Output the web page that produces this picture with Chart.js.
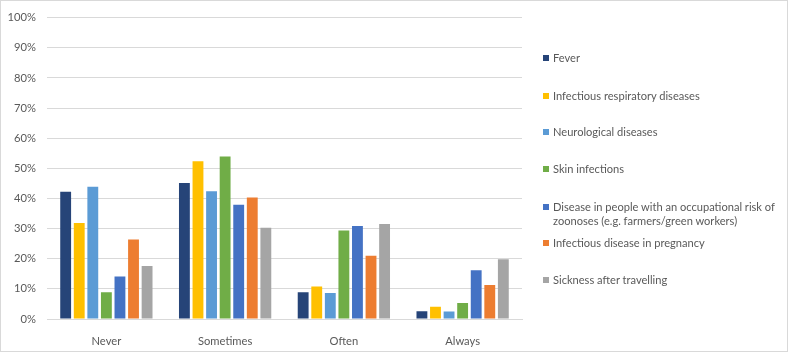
<!DOCTYPE html>
<html>
<head>
<meta charset="utf-8">
<script src="https://cdn.jsdelivr.net/npm/chart.js@4"></script>
<style>
  body { margin: 0; background: #fff; }
  #wrap { position: relative; width: 788px; height: 352px; font-family: Lato, "Open Sans", sans-serif; }
  #frame { position: absolute; left: 0; top: 0; width: 788px; height: 352px; box-sizing: border-box; border: 1px solid #d9d9d9; pointer-events: none; }
  canvas { position: absolute; left: 0; top: 0; }
  #legend { position: absolute; left: 543px; top: 0; color: #595959; font-size: 11.1px; line-height: 14px; }
  .item { position: absolute; left: 0; white-space: nowrap; }
  .box { position: absolute; left: 0; top: 4px; width: 6px; height: 6px; }
  .lbl { position: absolute; left: 10px; top: 0; }
</style>
</head>
<body>
<div id="wrap">
  <canvas id="c" width="788" height="352"></canvas>
  <div id="legend"></div>
  <div id="frame"></div>
</div>
<script>
let categories = ["Never", "Sometimes", "Often", "Always"];

let seriesNames = [
    "Fever",
    "Infectious respiratory diseases",
    "Neurological diseases",
    "Skin infections",
    ["Disease in people with an occupational risk of", "zoonoses (e.g. farmers/green workers)"],
    "Infectious disease in pregnancy",
    "Sickness after travelling"
];

let colori = ["#264478", "#FFC000", "#5B9BD5", "#70AD47", "#4472C4", "#ED7D31", "#A5A5A5"];

let fever = [42.2, 45.1, 8.9, 2.6];
let respiratory = [31.9, 52.4, 10.8, 4.1];
let neurological = [43.9, 42.4, 8.6, 2.5];
let skin = [8.9, 53.9, 29.4, 5.3];
let zoonoses = [14.1, 37.9, 30.9, 16.2];
let pregnancy = [26.4, 40.3, 21.0, 11.3];
let travelling = [17.6, 30.3, 31.5, 19.8];

let yTicks = [0, 10, 20, 30, 40, 50, 60, 70, 80, 90, 100];

let valori = [fever, respiratory, neurological, skin, zoonoses, pregnancy, travelling];

// legenda a destra, costruita a mano
let legendTops = [51, 89, 125, 162, 200, 236, 273];
const legend = document.getElementById("legend");
seriesNames.forEach((name, i) => {
    const item = document.createElement("div");
    item.className = "item";
    item.style.top = legendTops[i] + "px";
    const box = document.createElement("div");
    box.className = "box";
    box.style.background = colori[i];
    const lbl = document.createElement("div");
    lbl.className = "lbl";
    lbl.innerHTML = Array.isArray(name) ? name.join("<br>") : name;
    item.appendChild(box);
    item.appendChild(lbl);
    legend.appendChild(item);
});

const ctx = document.getElementById("c").getContext("2d");

const chart = new Chart(ctx, {
    type: "bar",
    data: {
        labels: categories,
        datasets: valori.map((v, i) => ({
            label: Array.isArray(seriesNames[i]) ? seriesNames[i].join(" ") : seriesNames[i],
            data: v,
            backgroundColor: colori[i],
            barPercentage: 0.8,
            categoryPercentage: 0.8
        }))
    },
    options: {
        responsive: false,
        animation: false,
        layout: {
            padding: { left: 0, right: 266, top: 15, bottom: 0 }
        },
        scales: {
            x: {
                grid: { display: false },
                border: { color: "#d9d9d9" },
                ticks: {
                    color: "#595959",
                    font: { family: "Lato", size: 11.2 },
                    padding: 8
                },
                afterFit: s => { s.height = 33; }
            },
            y: {
                min: 0,
                max: 100,
                afterBuildTicks: s => { s.ticks = yTicks.map(v => ({ value: v })); },
                grid: { color: "#d9d9d9", drawTicks: false },
                border: { display: false },
                ticks: {
                    color: "#595959",
                    font: { family: "Lato", size: 11.2 },
                    padding: 11,
                    callback: v => v + "%"
                },
                afterFit: s => { s.width = 47; }
            }
        },
        plugins: {
            legend: { display: false },
            tooltip: { enabled: false }
        }
    }
});
</script>
</body>
</html>
